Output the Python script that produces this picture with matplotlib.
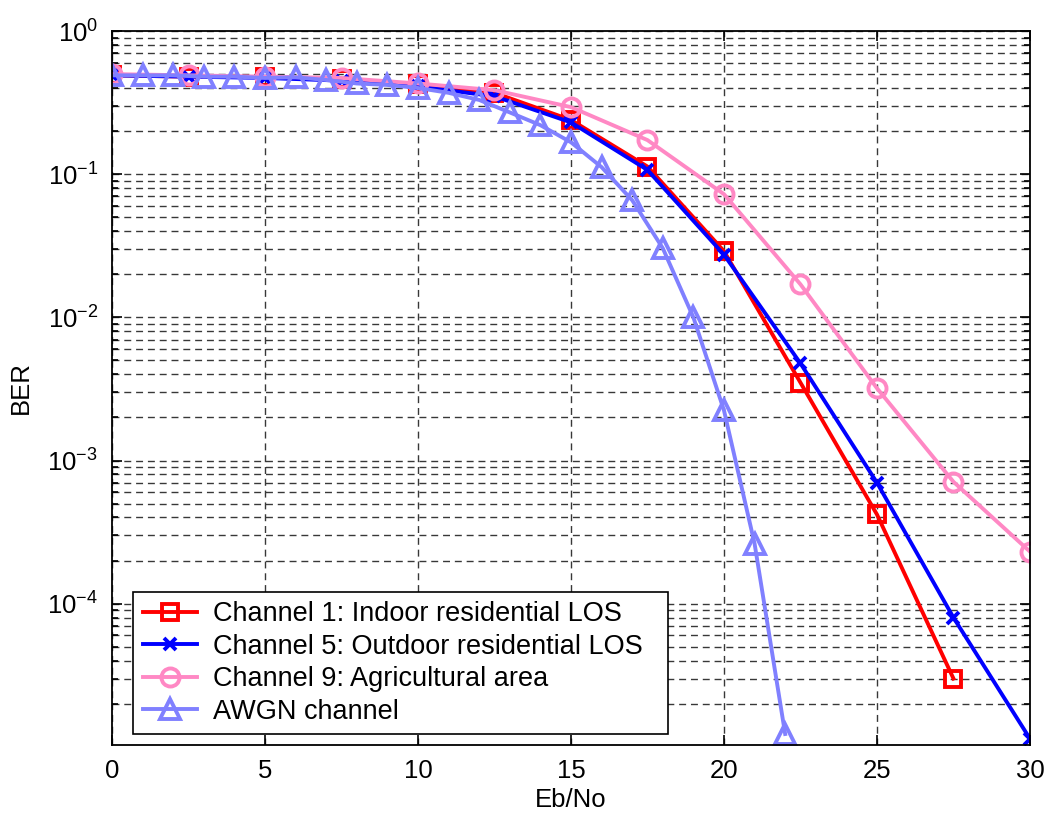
"""BER vs Eb/No for several channel models (log scale)"""
import matplotlib
matplotlib.use('Agg')
import matplotlib.pyplot as plt
from matplotlib.ticker import LogLocator, MultipleLocator, NullFormatter

plt.rcParams['font.family'] = ['Liberation Sans', 'DejaVu Sans']

# Eb/No points and BER
ebno_ch = [0, 2.5, 5, 7.5, 10, 12.5, 15, 17.5, 20, 22.5, 25, 27.5, 30]
ber_ch1 = [0.49, 0.48, 0.476, 0.46, 0.425, 0.37, 0.239, 0.113, 0.029, 0.0035, 4.2e-4, 3.0e-5]
ber_ch5 = [0.49, 0.48, 0.47, 0.45, 0.41, 0.35, 0.23, 0.107, 0.0274, 0.00477, 7.0e-4, 8.0e-5, 1.14e-5]
ber_ch9 = [0.50, 0.49, 0.48, 0.47, 0.43, 0.386, 0.294, 0.173, 0.0725, 0.017, 0.0032, 7.1e-4, 2.31e-4]

ebno_awgn = list(range(0, 23))
ber_awgn = [0.49, 0.49, 0.49, 0.48, 0.48, 0.47, 0.475, 0.455, 0.43, 0.42, 0.40,
            0.37, 0.33, 0.27, 0.22, 0.167, 0.112, 0.0658, 0.0304, 0.0100,
            0.00224, 2.63e-4, 1.23e-5]

labels = ['Channel 1: Indoor residential LOS',
          'Channel 5: Outdoor residential LOS',
          'Channel 9: Agricultural area',
          'AWGN channel']

fig = plt.figure(figsize=(10.45, 8.18), dpi=100)
ax = fig.add_axes([0.1072, 0.0892, 0.8784, 0.8729])

lw = 2.8
ax.plot(ebno_ch[:len(ber_ch1)], ber_ch1, color='#FF0000', lw=lw, marker='s',
        ms=11, mfc='none', mew=lw, label=labels[0])
ax.plot(ebno_ch, ber_ch5, color='#0000FF', lw=lw, marker='x',
        ms=8, mew=lw, label=labels[1])
ax.plot(ebno_ch, ber_ch9, color='#FF88C4', lw=lw, marker='o',
        ms=13, mfc='none', mew=lw, label=labels[2])
ax.plot(ebno_awgn, ber_awgn, color='#8080FF', lw=lw, marker='^',
        ms=14.5, mfc='none', mew=lw, label=labels[3])

ax.set_yscale('log')
ax.set_xlim(0, 30)
ax.set_ylim(1.03e-5, 1)
ax.xaxis.set_major_locator(MultipleLocator(5))
ax.yaxis.set_major_locator(LogLocator(base=10, numticks=10))
ax.yaxis.set_minor_locator(LogLocator(base=10, subs=range(2, 10), numticks=20))
ax.yaxis.set_minor_formatter(NullFormatter())

grid_style = dict(color='#383838', linestyle=(0, (5, 3.5)), linewidth=1.0)
ax.grid(True, which='major', axis='both', **grid_style)
ax.grid(True, which='minor', axis='y', **grid_style)
ax.set_axisbelow(True)

ax.tick_params(which='both', direction='in', top=True, right=True,
               labelsize=18.5, width=1.2)
ax.tick_params(which='major', length=7, pad=10)
ax.tick_params(which='minor', length=4)
for s in ax.spines.values():
    s.set_linewidth(1.3)

ax.set_xlabel('Eb/No', fontsize=18.5, labelpad=4)
ax.set_ylabel('BER', fontsize=18.5, labelpad=10)

leg = ax.legend(loc='lower left', bbox_to_anchor=(0.0229, 0.0154, 0.583, 0.2),
                mode='expand', borderaxespad=0, fontsize=19.5, fancybox=False,
                framealpha=1, edgecolor='black', handlelength=2.0,
                handletextpad=0.6, labelspacing=0.24, borderpad=0.35)
leg.get_frame().set_linewidth(1.2)

fig.savefig('out.png', dpi=100)
